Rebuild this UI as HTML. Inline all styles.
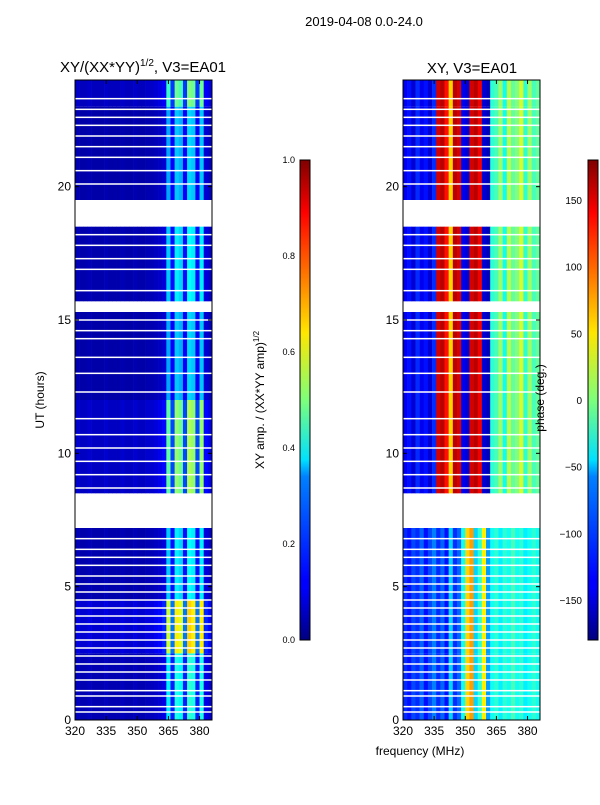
<!DOCTYPE html>
<html><head><meta charset="utf-8"><style>
body{margin:0;background:#fff;font-family:"Liberation Sans","DejaVu Sans",sans-serif}
svg text{font-family:"Liberation Sans","DejaVu Sans",sans-serif}
</style></head><body>
<svg id="fig" width="600" height="800">
<defs>
<linearGradient id="jet" x1="0" y1="1" x2="0" y2="0">
<stop offset="0" stop-color="#00007f"/><stop offset="0.11" stop-color="#0000ff"/><stop offset="0.125" stop-color="#0000ff"/>
<stop offset="0.34" stop-color="#0080ff"/><stop offset="0.375" stop-color="#00e0ff"/><stop offset="0.5" stop-color="#7dff7a"/>
<stop offset="0.64" stop-color="#ffe600"/><stop offset="0.75" stop-color="#ff8000"/><stop offset="0.89" stop-color="#ff0000"/><stop offset="1" stop-color="#7f0000"/>
</linearGradient>
</defs>
<text x="364" y="26" font-size="13" text-anchor="middle">2019-04-08 0.0-24.0</text>
<text x="143" y="72" font-size="15" text-anchor="middle">XY/(XX*YY)<tspan font-size="10" dy="-6">1/2</tspan><tspan dy="6">, V3=EA01</tspan></text>
<text x="472" y="73" font-size="15" text-anchor="middle">XY, V3=EA01</text>
<g id="ampPanel"></g>
<g id="phPanel"></g>
<g id="axes"></g>
<rect x="300" y="160" width="10" height="480" fill="url(#jet)" stroke="#000" stroke-width="1"/>
<rect x="588" y="160" width="10" height="480" fill="url(#jet)" stroke="#000" stroke-width="1"/>
<text transform="translate(264,400) rotate(-90)" font-size="12" text-anchor="middle">XY amp. / (XX*YY amp)<tspan font-size="8" dy="-5">1/2</tspan></text>
<text transform="translate(544,398) rotate(-90)" font-size="12" text-anchor="middle">phase (deg.)</text>
<text x="44" y="400" font-size="12" text-anchor="middle" transform="rotate(-90 44 400)">UT (hours)</text>
<text x="420" y="755" font-size="12" text-anchor="middle">frequency (MHz)</text>
</svg>
<script>
const freqStarts=[320,322,324,326,328,330,332,334,336,338,340,342,344,346,348,350,352,354,356,358,360,362,364,366,368,370,372,374,376,378,380,382,384];
const ampFreq=[0.06,0.05,0.05,0.06,0.05,0.05,0.05,0.06,0.05,0.05,0.05,0.06,0.05,0.05,0.06,0.05,0.05,0.06,0.06,0.07,0.08,0.1,0.36,0.15,0.4,0.37,0.15,0.42,0.4,0.15,0.4,0.1,0.08];
const phUpper=[-140,-130,-150,-120,-140,-130,-150,-120,150,160,130,60,160,150,-140,-150,150,160,140,-150,-160,-30,-20,10,-40,20,-10,0,30,-30,10,-20,-10];
const phLower=[-120,-130,-110,-120,-100,-130,-110,-90,-120,-100,-130,-60,-120,-100,-40,60,80,-60,-30,50,-80,-40,-30,-50,-30,-40,-20,-40,-30,-50,-40,-30,-40];
const segStart=[0,2.5,4.5,7.2,8.5,12,15.3,15.7,18.5,19.5,23];
const segEnd=[2.5,4.5,7.2,8.5,12,15.3,15.7,18.5,19.5,23,24];
const segAmp=[1.0,1.6,0.9,0,1.3,0.8,0,0.9,0,0.8,1.2];
const flagLines=[0.3,0.5,0.9,1.1,1.5,1.8,2.1,2.4,2.7,3.0,3.3,3.6,3.9,4.2,4.5,4.8,5.1,5.4,5.8,6.1,6.4,6.8,8.7,9.2,9.7,10.2,10.7,11.3,12.3,13.0,13.6,14.3,14.6,15.0,16.1,16.9,17.3,17.8,18.2,20.1,20.6,21.1,21.5,21.9,22.3,22.6,22.9,23.3];
const xTicks=[320,335,350,365,380];
const yTicks=[0,5,10,15,20];
const ampTicks=[0.0,0.2,0.4,0.6,0.8,1.0];
const phTicks=[-150,-100,-50,0,50,100,150];

const NS='http://www.w3.org/2000/svg';
const yTop=80,yBot=720,fMin=320,fMax=386;
function yOf(h){return yBot-(h/24)*(yBot-yTop);}
function xOf(f,x0){return x0+(f-fMin)/(fMax-fMin)*137;}
function jet(v){v=Math.max(0,Math.min(1,v));
 const r=Math.max(0,Math.min(1,1.5-Math.abs(4*v-3))),g=Math.max(0,Math.min(1,1.5-Math.abs(4*v-2))),b=Math.max(0,Math.min(1,1.5-Math.abs(4*v-1)));
 return `rgb(${Math.round(r*255)},${Math.round(g*255)},${Math.round(b*255)})`;}
function mk(tag,attrs,parent){const e=document.createElementNS(NS,tag);for(const k in attrs)e.setAttribute(k,attrs[k]);parent.appendChild(e);return e;}
const ampG=document.getElementById('ampPanel'),phG=document.getElementById('phPanel'),ax=document.getElementById('axes');
segStart.forEach((s,i)=>{
 const e=segEnd[i];
 for(let j=0;j<freqStarts.length;j++){
  const f0=freqStarts[j],f1=Math.min(fMax,f0+2);
  if(segAmp[i]===0)continue;
  const y0=yOf(e),hh=yOf(s)-y0;
  const r1=mk('rect',{x:xOf(f0,75),y:y0,width:xOf(f1,75)-xOf(f0,75)+0.3,height:hh,fill:jet(ampFreq[j]*segAmp[i])},ampG);
  
  
  const ph=s>=8?phUpper[j]:phLower[j];
  const r2=mk('rect',{x:xOf(f0,403),y:y0,width:xOf(f1,403)-xOf(f0,403)+0.3,height:hh,fill:jet((ph+180)/360)},phG);
  
  
 }
});
flagLines.forEach(h=>{
 [75,403].forEach(x0=>{
  const l=mk('rect',{x:x0,y:yOf(h)-0.75,width:137,height:1.5,fill:'#fff'},ax);
  
  
 });
});
[75,403].forEach((x0,p)=>{
 const fr=mk('rect',{x:x0,y:yTop,width:137,height:640,fill:'none',stroke:'#000','stroke-width':1},ax);
 
 
 xTicks.forEach(v=>{const x=xOf(v,x0);
  mk('line',{x1:x,x2:x,y1:yBot,y2:yBot-4,stroke:'#000'},ax);
  mk('line',{x1:x,x2:x,y1:yTop,y2:yTop+4,stroke:'#000'},ax);
  const t=mk('text',{x:x,y:yBot+15,'font-size':12,'text-anchor':'middle'},ax);t.textContent=v;
  
  });
 yTicks.forEach(v=>{const y=yOf(v);
  mk('line',{x1:x0,x2:x0+4,y1:y,y2:y,stroke:'#000'},ax);
  mk('line',{x1:x0+137,x2:x0+133,y1:y,y2:y,stroke:'#000'},ax);
  const t=mk('text',{x:x0-4,y:y+4,'font-size':12,'text-anchor':'end'},ax);t.textContent=v;
  
  });
});
ampTicks.forEach(v=>{const y=640-v*480;
 mk('line',{x1:300,x2:303,y1:y,y2:y,stroke:'#000'},ax);
 const t=mk('text',{x:295,y:y+3,'font-size':9,'text-anchor':'end'},ax);t.textContent=v.toFixed(1);
 
 });
phTicks.forEach(v=>{const y=400-v*480/360;
 mk('line',{x1:588,x2:591,y1:y,y2:y,stroke:'#000'},ax);
 const t=mk('text',{x:582,y:y+4,'font-size':10,'text-anchor':'end'},ax);t.textContent=v<0?'\u2212'+(-v):v;
 
 });
</script>
</body></html>
